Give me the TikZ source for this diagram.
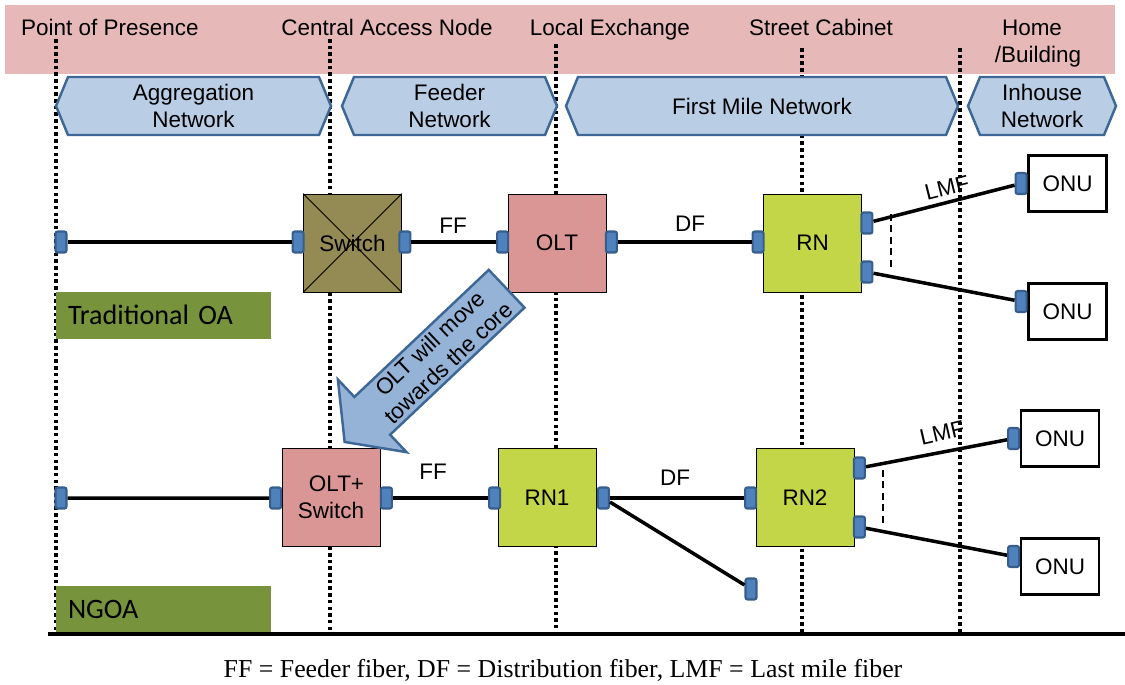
\documentclass[tikz,border=0pt]{standalone}
\usepackage{fontspec}
\setmainfont{Liberation Sans}
\newfontfamily\capfont{Liberation Serif}
\newfontfamily\tagfont{Carlito}
\usetikzlibrary{calc}

\definecolor{bandpink}{RGB}{230,185,184}
\definecolor{chevfill}{RGB}{185,205,229}
\definecolor{chevline}{RGB}{62,103,150}
\definecolor{switchcol}{RGB}{148,138,84}
\definecolor{oltcol}{RGB}{217,150,148}
\definecolor{rncol}{RGB}{194,214,72}
\definecolor{portfill}{RGB}{79,129,189}
\definecolor{portline}{RGB}{54,93,140}
\definecolor{tagcol}{RGB}{119,147,60}
\definecolor{arrowfill}{RGB}{149,179,215}

\tikzset{
  netbox/.style={draw=black, line width=0.5pt, minimum width=1.96cm, minimum height=1.96cm, inner sep=0pt, align=center},
  port/.style={draw=portline, fill=portfill, line width=1.2pt, rounded corners=1.2pt, minimum width=0.22cm, minimum height=0.42cm, inner sep=0pt},
  onu/.style={draw=black, line width=1.6pt, fill=white, minimum width=1.56cm, minimum height=1.12cm, inner sep=0pt},
  fiber/.style={line width=2pt},
  domainline/.style={line width=2pt, dash pattern=on 2pt off 1.8pt},
  chev/.style={draw=chevline, fill=chevfill, line width=1.4pt, line join=miter},
  tag/.style={fill=tagcol, text width=3.82cm, inner xsep=0.24cm, minimum height=0.94cm, align=left, font=\tagfont\fontsize{16}{18}\selectfont},
  splitmark/.style={line width=1.5pt, dash pattern=on 4pt off 2.5pt},
  place/.style={anchor=base},
}

\begin{document}
\begin{tikzpicture}[x=0.02cm, y=-0.02cm, font=\fontsize{12.8}{15.3}\selectfont]
\useasboundingbox (0,0) rectangle (1125,684);

% Location band
\fill[bandpink] (5,5) rectangle (1115,74);
\node[place] (pop) at (110,35) {Point of Presence};
\node[place] (can) at (387,35) {Central Access Node};
\node[place] (lex) at (610,35) {Local Exchange};
\node[place] (cab) at (821,35) {Street Cabinet};
\node[place] (home) at (1032,35) {Home};
\node[place] (bldg) at (1038,62) {/Building};

% Domain borders
\foreach \x/\ya in {56/39,330/39,556/44,802/48,960/48}
  \draw[domainline] (\x,\ya) -- (\x,632);

% Network segments
\foreach \xa/\xb/\nm/\txt in {56/331/agg/{Aggregation\\Network}, 342/557/feed/{Feeder\\Network}, 566/958/fmile/{First Mile Network}, 968/1116/inh/{Inhouse\\Network}} {
  \draw[chev] (\xa,106) -- (\xa+12,77) -- (\xb-12,77) -- (\xb,106) -- (\xb-12,135) -- (\xa+12,135) -- cycle;
  \node[align=center] (\nm) at ({(\xa+\xb)/2},106) {\txt};
}

% Traditional OA
\node[netbox, fill=switchcol] (switch) at (352.5,243) {Switch};
\draw[line width=0.5pt] (switch.north west) -- (switch.south east) (switch.north east) -- (switch.south west);
\node[netbox, fill=oltcol] (olt) at (557,243) {OLT};
\node[netbox, fill=rncol] (rn) at (812.5,243) {RN};
\node[onu] (onua) at (1067.5,183.5) {ONU};
\node[onu] (onub) at (1067.5,311.5) {ONU};

\node[port] (pa0) at (61,242) {};
\node[port] (pa1) at ($(switch.west)+(-5,-1)$) {};
\node[port] (pa2) at ($(switch.east)+(3,-1)$) {};
\node[port] (pa3) at ($(olt.west)+(-5,-1)$) {};
\node[port] (pa4) at ($(olt.east)+(5,-1)$) {};
\node[port] (pa5) at ($(rn.west)+(-5,-1)$) {};
\node[port] (pa6) at ($(rn.east)+(5,-20)$) {};
\node[port] (pa7) at ($(rn.east)+(5,29)$) {};
\node[port] (pa8) at ($(onua.west)+(-6,0)$) {};
\node[port] (pa9) at ($(onub.west)+(-6,-10)$) {};

\draw[fiber] (pa0) -- (pa1);
\draw[fiber] (pa2) -- (pa3);
\draw[fiber] (pa4) -- (pa5);
\draw[fiber] (pa6) -- (pa8);
\draw[fiber] (pa7) -- (pa9);
\draw[splitmark] (891,214) -- (891,268);

\node (ffa) at (453,226) {FF};
\node (dfa) at (690,224) {DF};
\node[rotate=14] (lmfa) at (947,188) {LMF};
\node[tag] (trad) at (163.5,315) {Traditional OA};

% NGOA
\node[netbox, fill=oltcol, align=right] (oltsw) at (331,497.5) {OLT+\\Switch};
\node[netbox, fill=rncol] (rn1) at (547,497.5) {RN1};
\node[netbox, fill=rncol] (rn2) at (805,497.5) {RN2};
\node[onu] (onuc) at (1060,438.5) {ONU};
\node[onu] (onud) at (1060,566.5) {ONU};

\node[port] (pb0) at (61,498) {};
\node[port] (pb1) at ($(oltsw.west)+(-6,0.5)$) {};
\node[port] (pb2) at ($(oltsw.east)+(6,0.5)$) {};
\node[port] (pb3) at ($(rn1.west)+(-3,0.5)$) {};
\node[port] (pb4) at ($(rn1.east)+(7,0.5)$) {};
\node[port] (pb5) at ($(rn2.west)+(-5,0.5)$) {};
\node[port] (pb6) at ($(rn2.east)+(5,-29.5)$) {};
\node[port] (pb7) at ($(rn2.east)+(5,29.5)$) {};
\node[port] (pb8) at ($(onuc.west)+(-6,0)$) {};
\node[port] (pb9) at ($(onud.west)+(-6,-10)$) {};
\node[port] (pb10) at (751,589) {};

\draw[fiber] (pb0) -- (pb1);
\draw[fiber] (pb2) -- (pb3);
\draw[fiber] (pb4) -- (pb5);
\draw[fiber] (pb4) -- (pb10);
\draw[fiber] (pb6) -- (pb8);
\draw[fiber] (pb7) -- (pb9);
\draw[splitmark] (883,470) -- (883,523);

\node (ffb) at (433,472) {FF};
\node (dfb) at (675,478) {DF};
\node[rotate=13] (lmfb) at (942,433) {LMF};
\node[tag] (ngoa) at (163.5,609) {NGOA};

% Migration arrow
\begin{scope}[shift={(426,365)}, rotate=43.4]
  \draw[draw=chevline, fill=arrowfill, line width=1.4pt, line join=miter] (111,-26) -- (111,26) -- (-74,26) -- (-74,50) -- (-112,0) -- (-74,-50) -- (-74,-26) -- cycle;
\end{scope}
\node[rotate=43.4, align=center] (move) at (439,353) {OLT will move\\towards the core};

% Baseline and legend
\draw[line width=2.2pt] (48,634) -- (1125,634);
\node[font=\capfont\fontsize{14.7}{17}\selectfont] (legend) at (563,670) {FF = Feeder fiber, DF = Distribution fiber, LMF = Last mile fiber};

\end{tikzpicture}
\end{document}
